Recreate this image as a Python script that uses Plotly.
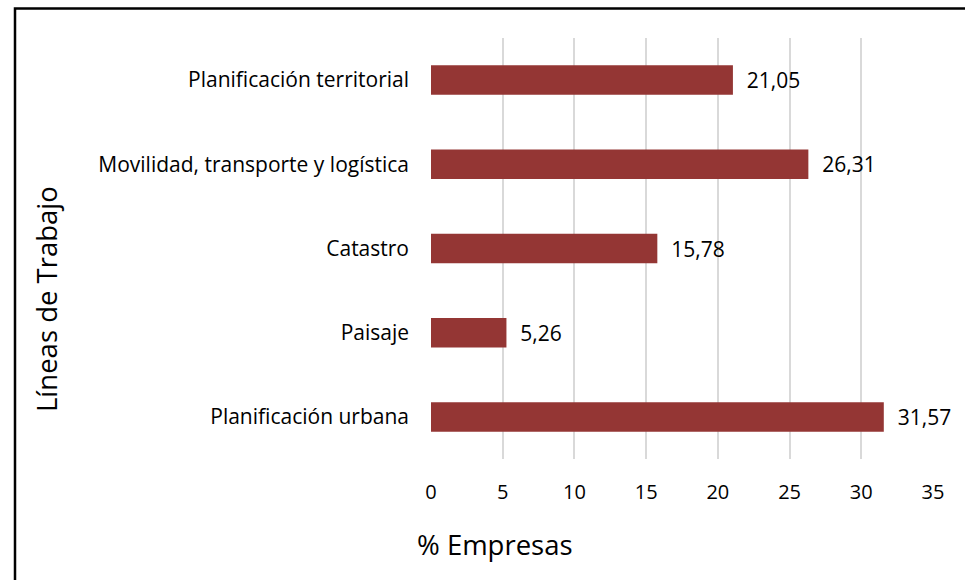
import plotly.graph_objects as go

categorias = ["Planificación territorial", "Movilidad, transporte y logística",
              "Catastro", "Paisaje", "Planificación urbana"]
valores = [21.05, 26.31, 15.78, 5.26, 31.57]
ticks_x = [0, 5, 10, 15, 20, 25, 30, 35]

FONT = "Open Sans"
W, H = 965, 580
L, R, T, B = 431, 32, 38, 121
pw, ph = W - L - R, H - T - B

def px(x):
    return (x - L) / pw

def py(y):
    return (H - B - y) / ph

fig = go.Figure(go.Bar(
    x=valores, y=categorias, orientation="h",
    marker=dict(color="#943634", line=dict(width=0)),
    text=valores, texttemplate="\u00a0\u00a0%{x:.2f}", textposition="outside",
    textfont=dict(family=FONT, size=21, color="#000000"),
    constraintext="none",
    cliponaxis=False,
))

fig.update_layout(
    width=W, height=H,
    margin=dict(l=L, r=R, t=T, b=B, autoexpand=False),
    paper_bgcolor="white", plot_bgcolor="white",
    separators=",.",
    bargap=0.65,
    showlegend=False,
    font=dict(family=FONT, size=20, color="#000000"),
    xaxis=dict(range=[0, 35], tickvals=ticks_x, showgrid=True, gridcolor="#d9d9d9",
               gridwidth=1.5, zeroline=False, showline=False, ticks="",
               ticklabelstandoff=19, tickfont=dict(family=FONT, size=20)),
    yaxis=dict(autorange="reversed", showgrid=False, zeroline=False, showline=False,
               ticks="", ticklabelstandoff=21, tickfont=dict(family=FONT, size=21)),
    shapes=[dict(type="rect", xref="paper", yref="paper",
                 x0=px(15), x1=1.3, y0=-0.6, y1=py(8.5),
                 line=dict(color="#000000", width=2.5), fillcolor="rgba(0,0,0,0)",
                 layer="above")],
    annotations=[
        dict(text="Líneas de Trabajo", xref="paper", yref="paper",
             x=px(46), y=py(299), textangle=-90, showarrow=False,
             xanchor="center", yanchor="middle",
             font=dict(family=FONT, size=27.5, color="#000000")),
        dict(text="% Empresas", xref="paper", yref="paper",
             x=px(495), y=py(544), showarrow=False,
             xanchor="center", yanchor="middle",
             font=dict(family=FONT, size=27.5, color="#000000")),
    ],
)

fig.write_html("out.html", config={"displayModeBar": False},
               post_script="document.body.style.margin='0';document.body.style.overflow='hidden';")
